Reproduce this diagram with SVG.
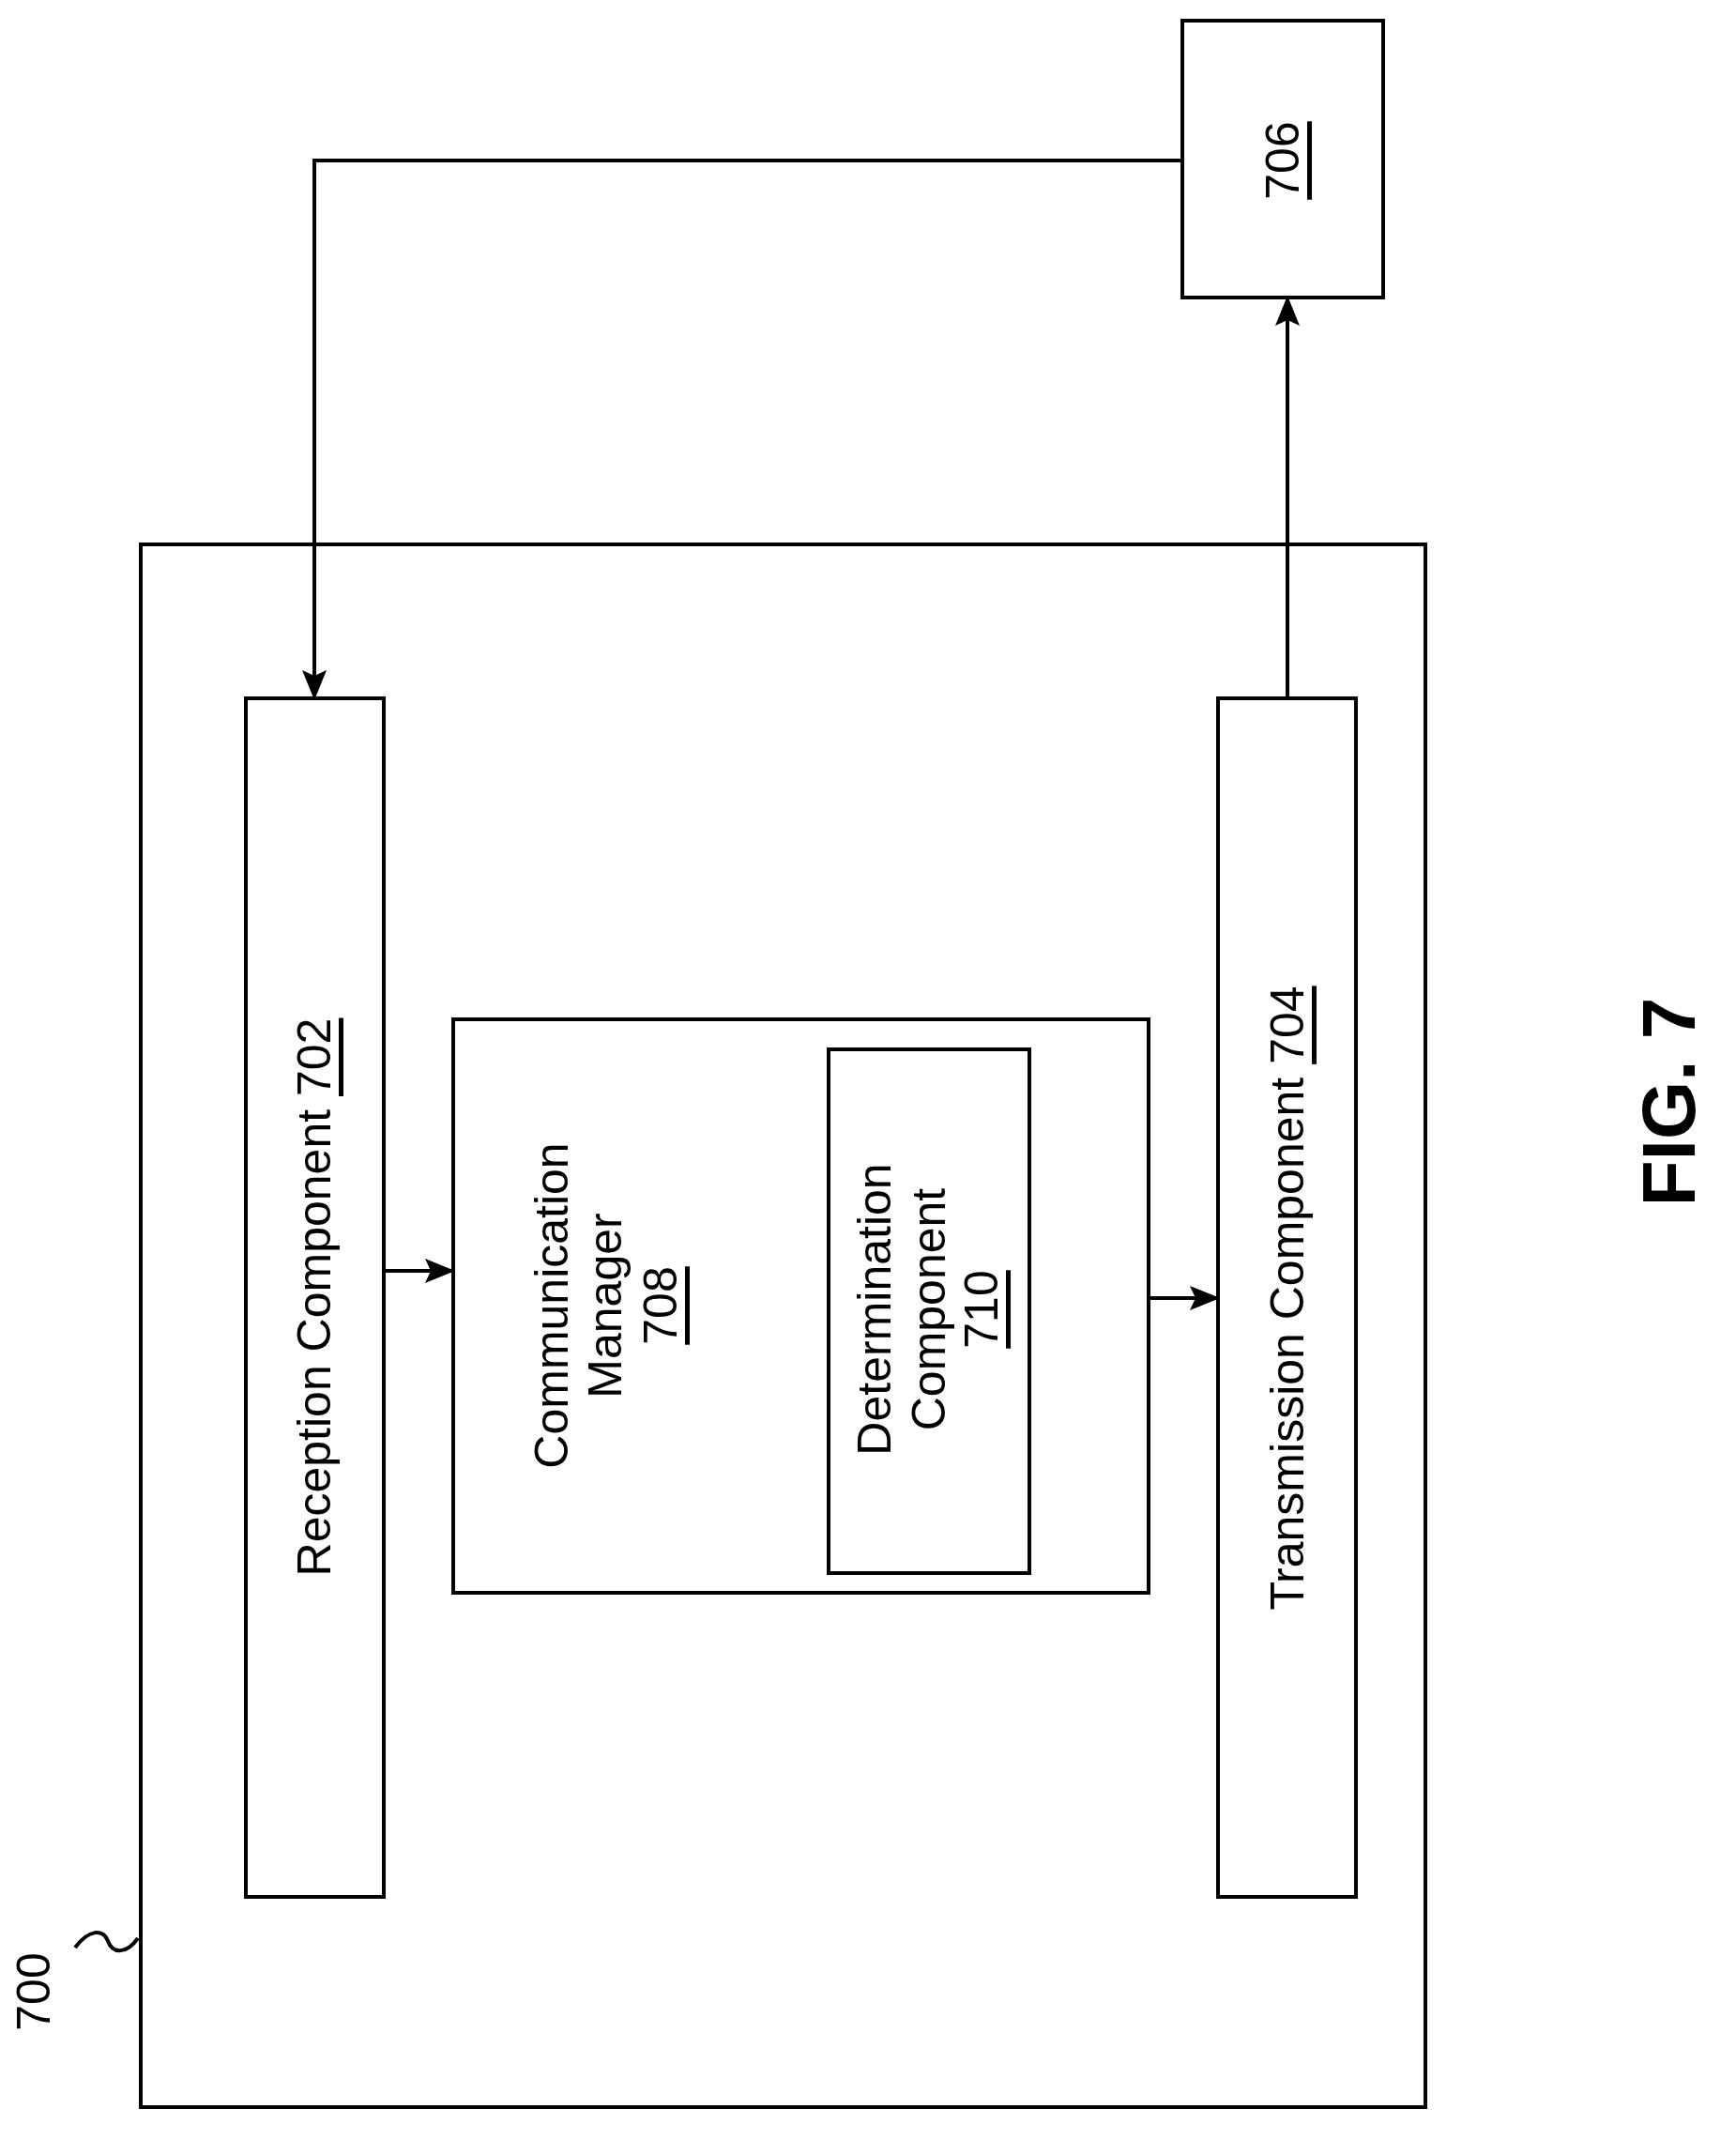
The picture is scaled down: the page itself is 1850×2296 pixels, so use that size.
<svg xmlns="http://www.w3.org/2000/svg" width="1850" height="2296" viewBox="0 0 1850 2296">
<style>
.b{fill:#fff;stroke:#000;stroke-width:4}
.l{fill:none;stroke:#000;stroke-width:4}
text{font-family:"Liberation Sans",Arial,sans-serif;font-size:50px;text-anchor:middle;dominant-baseline:central}
</style>
<defs>
<marker id="ar" markerWidth="32" markerHeight="26" refX="30" refY="13" orient="auto" markerUnits="userSpaceOnUse"><path d="M0,0L32,13L0,26L6,13z"/></marker></defs>
<rect width="1850" height="2296" fill="#fff"/>
<g id="n700"><rect class="b" x="150" y="580" width="1369" height="1665"/>
<text transform="translate(36,2122) rotate(-90)">700</text>
<path class="l" d="M80,2075 C95,2055 110,2055 115,2068 C120,2082 135,2082 147,2065"/></g>
<g id="n702"><rect class="b" x="262" y="744" width="147" height="1277"/>
<text transform="translate(335,1382) rotate(-90)">Reception Component <tspan text-decoration="underline">702</tspan></text></g>
<g id="n708"><rect class="b" x="483" y="1086" width="741" height="611"/>
<text transform="translate(588,1391) rotate(-90)">Communication</text>
<text transform="translate(645,1391) rotate(-90)">Manager</text>
<text transform="translate(704,1391) rotate(-90)" text-decoration="underline">708</text></g>
<g id="n710"><rect class="b" x="883" y="1118" width="214" height="558"/>
<text transform="translate(932,1395) rotate(-90)">Determination</text>
<text transform="translate(990,1395) rotate(-90)">Component</text>
<text transform="translate(1046,1395) rotate(-90)" text-decoration="underline">710</text></g>
<g id="n704"><rect class="b" x="1298" y="744" width="147" height="1277"/>
<text transform="translate(1372,1383) rotate(-90)">Transmission Component <tspan text-decoration="underline">704</tspan></text></g>
<g id="n706"><rect class="b" x="1260" y="22" width="214" height="295"/>
<text transform="translate(1367,171) rotate(-90)" text-decoration="underline">706</text></g>
<g id="connectors">
<path class="l" d="M1260,171H335V744" marker-end="url(#ar)"/>
<path class="l" d="M1372,744V317" marker-end="url(#ar)"/>
<path class="l" d="M409,1354H483" marker-end="url(#ar)"/>
<path class="l" d="M1224,1383H1298" marker-end="url(#ar)"/>
</g>
<text transform="translate(1778,1174) rotate(-90)" style="font-weight:bold;font-size:80px">FIG. 7</text>
</svg>
